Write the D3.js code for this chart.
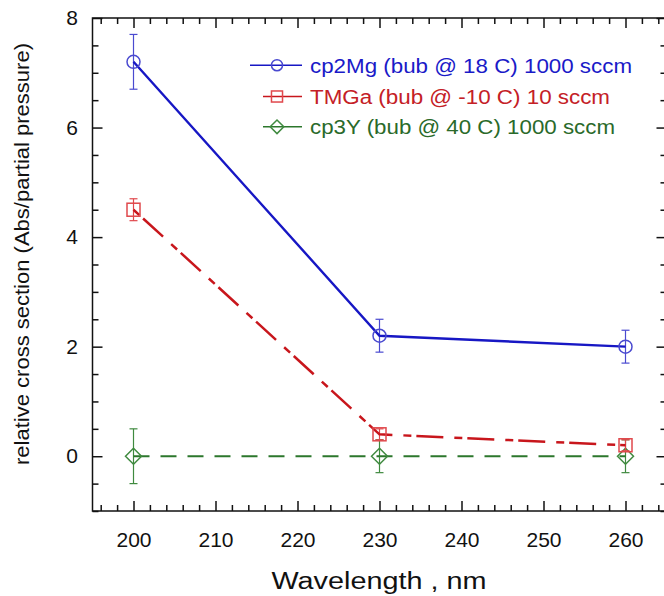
<!DOCTYPE html>
<html>
<head>
<meta charset="utf-8">
<script src="https://cdn.jsdelivr.net/npm/d3@7"></script>
<style>
  html, body { margin: 0; padding: 0; background: #fff; }
  svg { display: block; font-family: "Liberation Sans", Arial, sans-serif; }
</style>
</head>
<body>
<svg id="chart" width="664" height="596"></svg>
<script>
// Relative absorption cross sections of three precursors vs. wavelength
const wavelengths = [200, 230, 260];

const cp2MgValues = [7.2, 2.2, 2.0];
const cp2MgErrors = [0.5, 0.3, 0.3];

const tmgaValues = [4.5, 0.4, 0.2];
const tmgaErrors = [0.2, 0.1, 0.1];

const cp3YValues = [0, 0, 0];
const cp3YErrors = [0.5, 0.3, 0.3];

const seriesNames = [
  "cp2Mg (bub @ 18 C) 1000 sccm",
  "TMGa (bub @ -10 C) 10 sccm",
  "cp3Y (bub @ 40 C) 1000 sccm"
];

const xMajorTicks = [200, 210, 220, 230, 240, 250, 260];
const yMajorTicks = [0, 2, 4, 6, 8];

const xTitle = "Wavelength , nm";
const yTitle = "relative cross section (Abs/partial pressure)";

// ---- layout ----
const svg = d3.select("#chart");
const plotLeft = 92.5, plotRight = 666.5, plotTop = 18, plotBottom = 511;

const x = d3.scaleLinear().domain([195, 265]).range([plotLeft, plotRight]);
const y = d3.scaleLinear().domain([-1, 8]).range([plotBottom, plotTop]);

const xMinor = d3.range(196, 265, 2).filter(v => v % 10 !== 0);
const yMinor = d3.range(-1, 8.01, 0.5).filter(v => v % 2 !== 0);

const axisColor = "#111";

function styleAxis(g) {
  g.select(".domain").remove();
  g.selectAll(".tick line").attr("stroke", axisColor).attr("stroke-width", 1.5);
  g.selectAll("text").attr("fill", "#111").attr("font-size", 21)
    .attr("font-family", "'Liberation Sans', Arial, sans-serif");
}

// bottom axis (ticks point inward)
svg.append("g").attr("transform", `translate(0,${plotBottom})`)
  .call(d3.axisBottom(x).tickValues(xMajorTicks).tickSize(-10).tickPadding(21).tickFormat(d3.format("d")))
  .call(styleAxis);
svg.append("g").attr("transform", `translate(0,${plotBottom})`)
  .call(d3.axisBottom(x).tickValues(xMinor).tickSize(-6).tickFormat(""))
  .call(styleAxis);

// top axis
svg.append("g").attr("transform", `translate(0,${plotTop})`)
  .call(d3.axisTop(x).tickValues(xMajorTicks).tickSize(-10).tickFormat(""))
  .call(styleAxis);
svg.append("g").attr("transform", `translate(0,${plotTop})`)
  .call(d3.axisTop(x).tickValues(xMinor).tickSize(-6).tickFormat(""))
  .call(styleAxis);

// left axis
svg.append("g").attr("transform", `translate(${plotLeft},0)`)
  .call(d3.axisLeft(y).tickValues(yMajorTicks).tickSize(-10).tickPadding(14.5).tickFormat(d3.format("d")))
  .call(styleAxis);
svg.append("g").attr("transform", `translate(${plotLeft},0)`)
  .call(d3.axisLeft(y).tickValues(yMinor).tickSize(-6).tickFormat(""))
  .call(styleAxis);

// right axis
svg.append("g").attr("transform", `translate(${plotRight},0)`)
  .call(d3.axisRight(y).tickValues(yMajorTicks).tickSize(-10).tickFormat(""))
  .call(styleAxis);
svg.append("g").attr("transform", `translate(${plotRight},0)`)
  .call(d3.axisRight(y).tickValues(yMinor).tickSize(-6).tickFormat(""))
  .call(styleAxis);

// frame
svg.append("rect")
  .attr("x", plotLeft).attr("y", plotTop)
  .attr("width", plotRight - plotLeft).attr("height", plotBottom - plotTop)
  .attr("fill", "none").attr("stroke", axisColor).attr("stroke-width", 1.5);

// axis titles
svg.append("text")
  .attr("x", 379).attr("y", 589)
  .attr("text-anchor", "middle")
  .attr("font-size", 23.5)
  .attr("textLength", 215).attr("lengthAdjust", "spacingAndGlyphs")
  .attr("fill", "#111")
  .text(xTitle);

svg.append("text")
  .attr("transform", "translate(28.5,254) rotate(-90)")
  .attr("text-anchor", "middle")
  .attr("font-size", 21)
  .attr("textLength", 422).attr("lengthAdjust", "spacingAndGlyphs")
  .attr("fill", "#111")
  .text(yTitle);

// ---- series ----
const series = [
  { name: seriesNames[2], values: cp3YValues, errors: cp3YErrors,
    line: "#2c772c", mark: "#3f8a3f", text: "#2a6a2a", dash: "16,11", shape: "diamond", width: 2 },
  { name: seriesNames[1], values: tmgaValues, errors: tmgaErrors,
    line: "#c8161c", mark: "#e0484c", text: "#c42026", dash: "8,5,27,11", shape: "square", width: 2.5 },
  { name: seriesNames[0], values: cp2MgValues, errors: cp2MgErrors,
    line: "#1717c4", mark: "#4a4ad0", text: "#1a1ac8", dash: null, shape: "circle", width: 2.4 }
];

function drawMarker(g, shape, cx, cy, color, scale) {
  const s = scale || 1;
  if (shape === "circle") {
    g.append("circle").attr("cx", cx).attr("cy", cy).attr("r", 6.5 * s)
      .attr("fill", "none").attr("stroke", color).attr("stroke-width", 1.5);
  } else if (shape === "square") {
    const h = 6.5 * s;
    g.append("rect").attr("x", cx - h).attr("y", cy - h).attr("width", 2 * h).attr("height", 2 * h)
      .attr("fill", "none").attr("stroke", color).attr("stroke-width", 1.5);
  } else {
    const h = 8 * s;
    g.append("path")
      .attr("d", `M${cx - h},${cy}L${cx},${cy - h}L${cx + h},${cy}L${cx},${cy + h}Z`)
      .attr("fill", "none").attr("stroke", color).attr("stroke-width", 1.5);
  }
}

const lineGen = d3.line().x(d => x(d[0])).y(d => y(d[1]));

series.forEach(s => {
  const g = svg.append("g");
  const pts = wavelengths.map((w, i) => [w, s.values[i], s.errors[i]]);

  // error bars
  pts.forEach(p => {
    const cx = x(p[0]);
    g.append("line").attr("x1", cx).attr("x2", cx)
      .attr("y1", y(p[1] - p[2])).attr("y2", y(p[1] + p[2]))
      .attr("stroke", s.mark).attr("stroke-width", 1.2);
    [p[1] - p[2], p[1] + p[2]].forEach(v => {
      g.append("line").attr("x1", cx - 4).attr("x2", cx + 4)
        .attr("y1", y(v)).attr("y2", y(v))
        .attr("stroke", s.mark).attr("stroke-width", 1.2);
    });
  });

  // connecting line
  g.append("path").datum(pts)
    .attr("d", lineGen)
    .attr("fill", "none")
    .attr("stroke", s.line)
    .attr("stroke-width", s.width)
    .attr("stroke-dasharray", s.dash);

  pts.forEach(p => drawMarker(g, s.shape, x(p[0]), y(p[1]), s.mark));
});

// ---- legend ----
const legendRows = [
  { s: series[2], base: 72.7, len: 322, x0: 250 },
  { s: series[1], base: 104, len: 300, x0: 263 },
  { s: series[0], base: 134.3, len: 305, x0: 263 }
];

legendRows.forEach(r => {
  const g = svg.append("g");
  const ly = r.base - 7.5;
  g.append("line").attr("x1", r.x0).attr("x2", 302).attr("y1", ly).attr("y2", ly)
    .attr("stroke", r.s.line).attr("stroke-width", 1.6);
  drawMarker(g, r.s.shape, 277, ly, r.s.mark, 0.85);
  g.append("text").attr("x", 310).attr("y", r.base)
    .attr("font-size", 20)
    .attr("textLength", r.len).attr("lengthAdjust", "spacingAndGlyphs")
    .attr("fill", r.s.text)
    .text(r.s.name);
});
</script>
</body>
</html>
